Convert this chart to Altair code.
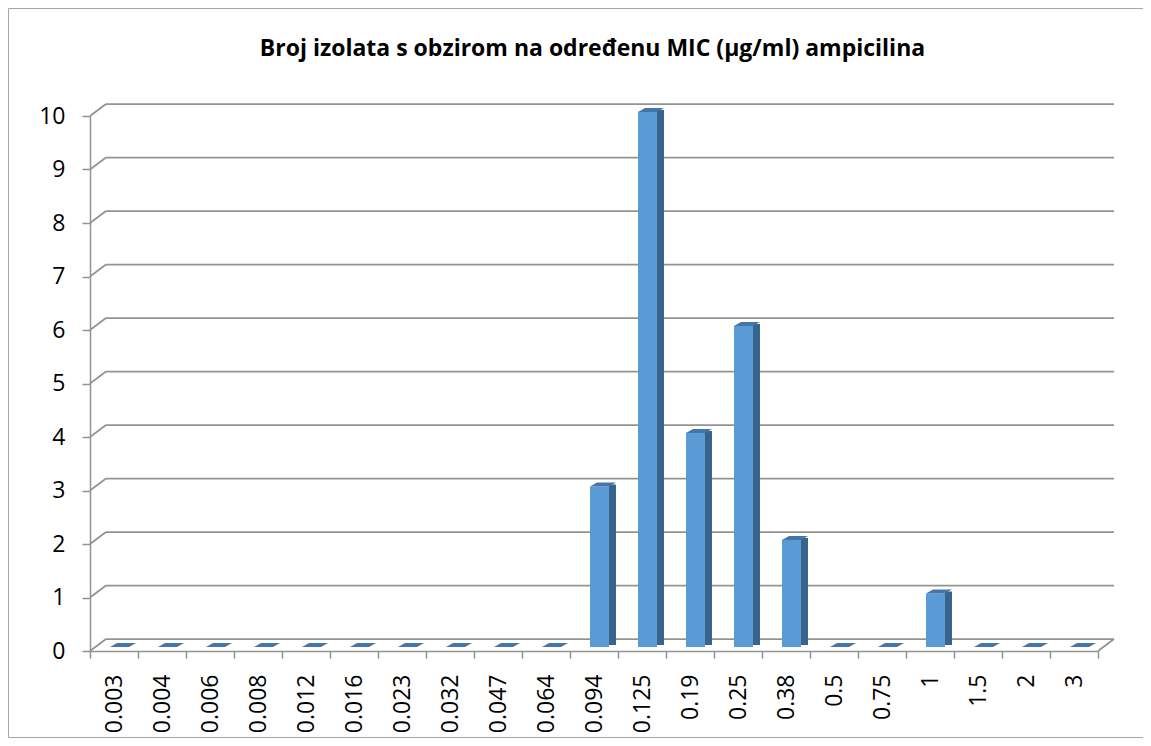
import altair as alt
import pandas as pd

categories = ["0.003", "0.004", "0.006", "0.008", "0.012", "0.016", "0.023",
              "0.032", "0.047", "0.064", "0.094", "0.125", "0.19", "0.25",
              "0.38", "0.5", "0.75", "1", "1.5", "2", "3"]
counts = [0, 0, 0, 0, 0, 0, 0, 0, 0, 0, 3, 10, 4, 6, 2, 0, 0, 1, 0, 0, 0]
y_ticks = list(range(0, 11))
title_text = "Broj izolata s obzirom na određenu MIC (µg/ml) ampicilina"

W, H = 1008, 535
LEFT, TOP = 82, 108
RIGHT = 1135 - LEFT - W
BOTTOM = 730 - TOP - H

GRID = "#939393"
FRONT = "#5B9BD5"
SIDE = "#38638D"
TOPC = "#4474A8"
FONT = "Open Sans"

bars = pd.DataFrame({"mic": categories, "n": counts})
grid = pd.DataFrame({"n": y_ticks})
one = pd.DataFrame({"n": [0]})

x_enc = alt.X(
    "mic:N", sort=categories,
    scale=alt.Scale(domain=categories, paddingInner=0, paddingOuter=0),
    axis=alt.Axis(title=None, labelAngle=-90, labelFontSize=23, labelFont=FONT,
                  labelColor="#000000", labelPadding=16, tickSize=7,
                  tickBand="extent", domainColor=GRID, tickColor=GRID,
                  domainWidth=1.5, tickWidth=1.5),
)
y_enc = alt.Y(
    "n:Q",
    scale=alt.Scale(domain=[0, 10], nice=False, zero=True),
    axis=alt.Axis(title=None, values=y_ticks, labelFontSize=23, labelFont=FONT,
                  labelColor="#000000", labelPadding=17, tickSize=8, grid=False,
                  domainColor=GRID, tickColor=GRID, domainWidth=1.5, tickWidth=1.5),
)

frame = alt.Chart(one).mark_rect(
    fill="white", fillOpacity=0, stroke="#A6A6A6", strokeWidth=1
).encode(x=alt.value(-81.5), x2=alt.value(1054.5), y=alt.value(-107.5), y2=alt.value(621.5))

wall = alt.Chart(grid).mark_rule(color=GRID, strokeWidth=1.75, yOffset=-12).encode(
    y=y_enc, x=alt.value(16), x2=alt.value(1024)
)

slants = alt.Chart(grid).mark_point(
    shape="M 0 0 L 16 -12", size=4, filled=False, color=GRID, strokeWidth=1.75, opacity=1
).encode(x=alt.value(0), y=y_enc)

floor_slant = alt.Chart(one).mark_point(
    shape="M 0 0 L 16 -12", size=4, filled=False, color=GRID, strokeWidth=1.75, opacity=1
).encode(x=alt.value(W), y=y_enc)

side = alt.Chart(bars).mark_bar(
    width=7, xOffset=18.5, yOffset=-6, y2Offset=-6, color=SIDE
).encode(x=x_enc, y=y_enc, y2=alt.datum(0))

front = alt.Chart(bars).mark_bar(
    width=19, xOffset=5.5, yOffset=-4, y2Offset=-4, color=FRONT
).encode(x=x_enc, y=y_enc, y2=alt.datum(0))

tops = alt.Chart(bars).mark_point(
    shape="M -13 2 L 6 2 L 13 -2 L -6 -2 Z", size=4, filled=True, color=TOPC,
    opacity=1, strokeWidth=0, xOffset=9, yOffset=-6
).encode(x=x_enc, y=y_enc)

title = alt.Chart(one).mark_text(
    text=title_text, font=FONT, fontSize=23, fontWeight="bold",
    align="center", baseline="alphabetic", color="#000000"
).encode(x=alt.value(502.5), y=alt.value(-60))

chart = alt.layer(frame, wall, slants, floor_slant, side, front, tops, title).properties(
    width=W, height=H,
    padding={"left": LEFT, "top": TOP, "right": RIGHT, "bottom": BOTTOM},
    autosize=alt.AutoSizeParams(type="none"),
    background="white",
).configure_view(strokeWidth=0)

chart.save("out.html", embed_options={"renderer": "svg", "actions": False})
